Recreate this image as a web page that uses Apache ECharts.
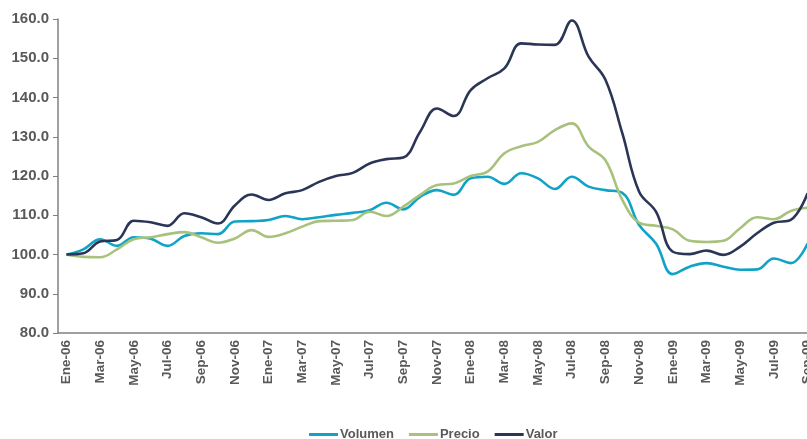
<!DOCTYPE html>
<html>
<head>
    <meta charset="utf-8">
    <title>Volumen, Precio, Valor</title>
    <script src="https://cdn.jsdelivr.net/npm/echarts@6/dist/echarts.min.js"></script>
    <style>
        html, body { margin: 0; padding: 0; background: #fff; overflow: hidden; }
        /* el gráfico original queda cortado por la derecha */
        #chart1 { width: 816px; height: 439px; }
    </style>
</head>
<body>
<div id="chart1"></div>
<script type="text/javascript">
    // meses Ene-06 .. Sep-09
    var meses = ['Ene', 'Feb', 'Mar', 'Abr', 'May', 'Jun', 'Jul', 'Ago', 'Sep', 'Oct', 'Nov', 'Dic'];
    var years = ['06', '07', '08', '09'];
    var categories = [];
    for (var y = 0; y < years.length; y++) {
        for (var m = 0; m < 12; m++) {
            if (years[y] == '09' && m > 8) break;
            categories.push(meses[m] + '-' + years[y]);
        }
    }

    var volumen = [100.0, 101.3, 103.9, 102.2, 104.4, 104.0, 102.2, 104.7, 105.4, 105.2, 108.4, 108.5,
        108.8, 109.8, 109.0, 109.5, 110.1, 110.6, 111.3, 113.2, 111.5, 114.7, 116.4, 115.2,
        119.4, 119.8, 118.0, 120.7, 119.4, 116.7, 119.8, 117.3, 116.4, 115.7, 107.5, 102.8,
        95.0, 96.9, 97.8, 96.9, 96.1, 96.2, 99.0, 97.8, 102.8];

    var precio = [100.0, 99.4, 99.3, 101.3, 103.9, 104.4, 105.2, 105.7, 104.4, 103.0, 104.1, 106.2,
        104.5, 105.4, 107.1, 108.5, 108.6, 108.8, 110.9, 109.8, 112.2, 115.2, 117.7, 118.1,
        120.0, 121.1, 125.8, 127.6, 128.7, 131.7, 133.4, 127.5, 124.0, 113.9, 108.1, 107.3,
        106.4, 103.5, 103.2, 103.5, 106.7, 109.5, 109.0, 111.1, 111.9];

    var valor = [100.0, 100.3, 103.3, 103.7, 108.6, 108.2, 107.3, 110.5, 109.5, 107.9, 112.5, 115.3,
        113.9, 115.6, 116.4, 118.5, 120.0, 120.8, 123.2, 124.3, 124.7, 131.3, 137.2, 135.3,
        141.9, 144.9, 147.4, 153.8, 153.5, 153.4, 159.6, 150.4, 144.5, 130.9, 116.0, 110.9,
        100.7, 100.1, 101.0, 99.9, 102.0, 105.4, 108.1, 108.8, 115.6];

    var yTicks = [80, 160, 10]; // min, max, paso

    var myChart1 = echarts.init(document.getElementById('chart1'));
    var option = {
        animation: false,
        grid: { left: 58, top: 19, right: 0, bottom: 106, containLabel: false },
        legend: {
            data: ['Volumen', 'Precio', 'Valor'],
            top: 423,
            left: 304,
            icon: 'rect',
            itemWidth: 29,
            itemHeight: 3,
            itemGap: 15,
            textStyle: { color: '#595959', fontWeight: 'bold', fontSize: 13, fontFamily: 'Liberation Sans', padding: [0, 0, 0, -3] }
        },
        xAxis: {
            type: 'category',
            data: categories,
            boundaryGap: true,
            axisLine: { lineStyle: { color: '#808080', width: 1.5 } },
            axisTick: { interval: 0, length: 5, lineStyle: { color: '#808080' } },
            axisLabel: {
                interval: 1,
                rotate: 90,
                margin: 7,
                color: '#595959',
                fontWeight: 'bold',
                fontSize: 13.5,
                fontFamily: 'Liberation Sans'
            }
        },
        yAxis: {
            type: 'value',
            min: yTicks[0],
            max: yTicks[1],
            interval: yTicks[2],
            splitLine: { show: false },
            axisLine: { show: true, lineStyle: { color: '#808080', width: 1.5 } },
            axisTick: { show: true, length: 5, lineStyle: { color: '#808080' } },
            axisLabel: {
                margin: 9,
                color: '#595959',
                fontWeight: 'bold',
                fontSize: 15,
                fontFamily: 'Liberation Sans',
                formatter: function (v) { return v.toFixed(1); }
            }
        },
        series: [
            {
                name: 'Volumen', type: 'line', data: volumen, smooth: 0.4, symbol: 'none',
                lineStyle: { color: '#11a3c6', width: 2.6 }, itemStyle: { color: '#11a3c6' }
            },
            {
                name: 'Precio', type: 'line', data: precio, smooth: 0.4, symbol: 'none',
                lineStyle: { color: '#a8c17c', width: 2.6 }, itemStyle: { color: '#a8c17c' }
            },
            {
                name: 'Valor', type: 'line', data: valor, smooth: 0.4, symbol: 'none',
                lineStyle: { color: '#2b3556', width: 2.6 }, itemStyle: { color: '#2b3556' }
            }
        ]
    };
    myChart1.setOption(option);
</script>
</body>
</html>
